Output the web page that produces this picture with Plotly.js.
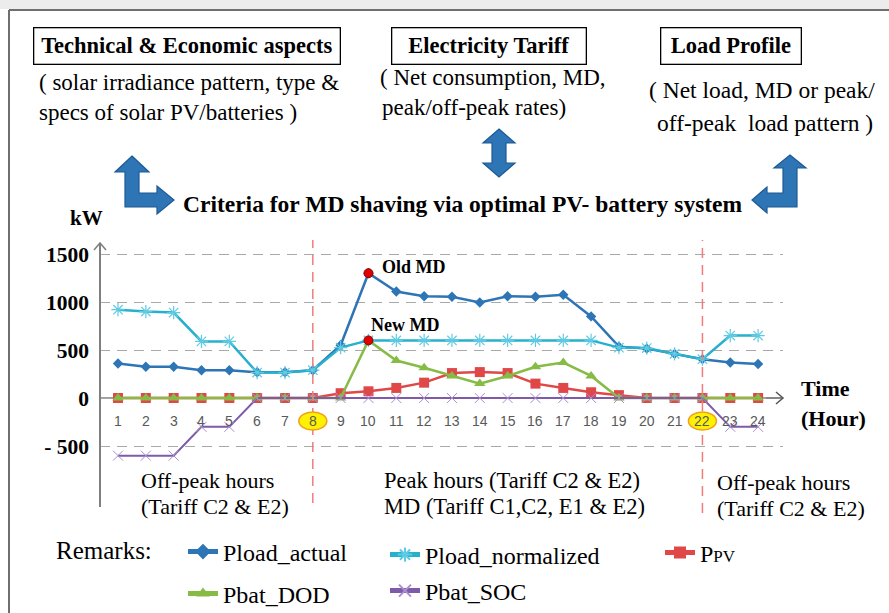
<!DOCTYPE html>
<html>
<head>
<meta charset="utf-8">
<script src="https://cdn.plot.ly/plotly-3.0.1.min.js"></script>
<style>html,body{margin:0;padding:0;background:#fff;}#chart{width:889px;height:613px;}</style>
</head>
<body>
<div id="chart"></div>
<script>
// ---------- data ----------
const hours = [1,2,3,4,5,6,7,8,9,10,11,12,13,14,15,16,17,18,19,20,21,22,23,24];
const hourLabels = ['1','2','3','4','5','6','7','8','9','10','11','12','13','14','15','16','17','18','19','20','21','22','23','24'];
const loadActual = [360,325,325,290,290,268,268,290,550,1300,1110,1060,1055,995,1060,1055,1075,850,535,515,460,405,370,355];
const loadNormalized = [920,900,890,590,590,265,265,290,525,600,600,600,600,600,600,600,600,600,525,520,460,405,650,650];
const pPV = [0,0,0,0,0,0,0,0,50,70,105,160,260,270,260,150,105,60,30,0,0,0,0,0];
const batDOD = [0,0,0,0,0,0,0,0,0,600,390,315,230,150,230,325,370,230,0,0,0,0,0,0];
const batSOC = [-600,-600,-600,-300,-300,0,0,0,0,0,0,0,0,0,0,0,0,0,0,0,0,0,-300,-300];
const mdHour = 10;
const oldMD = 1300;
const newMD = 600;
const boundaryHours = [8, 22];
const yTickVals = [-500, 0, 500, 1000, 1500];
const yTickText = ['- 500', '0', '500', '1000', '1500'];

// ---------- layout helpers (figure pixels -> paper) ----------
const W = 889, H = 613;
const PL = 100, PR = 783, PT = 242, PB = 507;
const X = px => (px - PL) / (PR - PL);
const Y = py => (PB - py) / (PB - PT);
const path = pts => pts.map((p, i) => (i ? 'L' : 'M') + X(p[0]).toFixed(5) + ',' + Y(p[1]).toFixed(5)).join(' ') + ' Z';
const pathOpen = pts => pts.map((p, i) => (i ? 'L' : 'M') + X(p[0]).toFixed(5) + ',' + Y(p[1]).toFixed(5)).join(' ');

const SERIF = 'Liberation Serif';
const SANS = 'Liberation Sans';
const blue = '#2E75B6';

const traces = [
  {x: hours, y: pPV, name: 'P<span style="font-size:17px">PV</span>', mode: 'lines+markers',
   line: {color: '#E04848', width: 2.5}, marker: {symbol: 'square', size: 10, color: '#E04848'}, legend: 'legend3'},
  {x: hours, y: batDOD, name: 'Pbat_DOD', mode: 'lines+markers',
   line: {color: '#86BC45', width: 2.5}, marker: {symbol: 'triangle-up', size: 10, color: '#86BC45'}, legend: 'legend4'},
  {x: hours, y: batSOC, name: 'Pbat_SOC', mode: 'lines+markers',
   line: {color: '#7E5AA8', width: 2}, marker: {symbol: 'x-thin-open', size: 10, color: '#A98FD0', line: {width: 1, color: '#A98FD0'}}, legend: 'legend5'},
  {x: hours, y: loadActual, name: 'Pload_actual', mode: 'lines+markers',
   line: {color: blue, width: 2.5}, marker: {symbol: 'diamond', size: 8, color: blue}, legend: 'legend'},
  {x: hours, y: loadNormalized, name: 'Pload_normalized', mode: 'lines+markers',
   line: {color: '#26B0CE', width: 2.5}, marker: {symbol: 'asterisk-open', size: 11, color: '#5FCBE3', line: {width: 1.2, color: '#5FCBE3'}}, legend: 'legend2'},
  {x: [mdHour, mdHour], y: [oldMD, newMD], mode: 'markers', showlegend: false,
   marker: {symbol: 'circle', size: 9, color: '#E00000', line: {color: '#8B0000', width: 1}}}
];

const shapes = [];
// top band + border
shapes.push({type: 'rect', xref: 'paper', yref: 'paper', x0: X(0), x1: X(W), y0: Y(0), y1: Y(9), fillcolor: '#ececec', line: {width: 0}, layer: 'below'});
shapes.push({type: 'line', xref: 'paper', yref: 'paper', x0: X(9), x1: X(W), y0: Y(10), y1: Y(10), line: {color: '#6f6f6f', width: 2}});
shapes.push({type: 'line', xref: 'paper', yref: 'paper', x0: X(9), x1: X(9), y0: Y(10), y1: Y(H), line: {color: '#6f6f6f', width: 2}});
// block arrows
const arrowStyle = {fillcolor: blue, line: {color: '#1d5a94', width: 1.2}};
shapes.push(Object.assign({type: 'path', xref: 'paper', yref: 'paper', path: path([[132,156],[149,172],[139,172],[139,193],[157,193],[157,186],[174,200],[157,214],[157,207],[125,207],[125,172],[115,172]])}, arrowStyle));
shapes.push(Object.assign({type: 'path', xref: 'paper', yref: 'paper', path: path([[499,129],[515,143],[506,143],[506,163],[515,163],[499,177],[483,163],[492,163],[492,143],[483,143]])}, arrowStyle));
shapes.push(Object.assign({type: 'path', xref: 'paper', yref: 'paper', path: path([[790,155],[806,168],[797,168],[797,207],[767,207],[767,213],[752,200],[767,187],[767,193],[783,193],[783,168],[774,168]])}, arrowStyle));
// y axis with chevron
shapes.push({type: 'line', xref: 'paper', yref: 'paper', x0: X(100), x1: X(100), y0: Y(507), y1: Y(243), line: {color: '#7f7f7f', width: 2}});
shapes.push({type: 'path', xref: 'paper', yref: 'paper', path: pathOpen([[94,250],[100,243],[106,250]]), line: {color: '#7f7f7f', width: 1.5}});
// x axis (zero line) with chevron
shapes.push({type: 'line', xref: 'paper', yref: 'y', x0: X(100), x1: X(783), y0: 0, y1: 0, line: {color: '#7f7f7f', width: 1.5}, layer: 'below'});
shapes.push({type: 'line', xref: 'paper', yref: 'y', x0: X(766), x1: X(783), y0: 0, y1: 0, line: {color: '#7f7f7f', width: 1.5}});
shapes.push({type: 'path', xref: 'paper', yref: 'paper', path: pathOpen([[776,392],[783,398],[776,404]]), line: {color: '#555555', width: 1.5}});
// boundary dashed lines and highlighted labels
boundaryHours.forEach((h, i) => {
  shapes.push({type: 'line', xref: 'x', yref: 'paper', x0: h, x1: h, y0: Y(i === 0 ? 503 : 513), y1: Y(240),
    line: {color: '#F07C7C', width: 1.5, dash: '10px,7px'}});
  shapes.push({type: 'circle', xref: 'x', yref: 'y', xsizemode: 'pixel', ysizemode: 'pixel', xanchor: h, yanchor: 0,
    x0: -14, x1: 14, y0: -32, y1: -14, fillcolor: '#FFF200', line: {color: '#F0A020', width: 1.5}});
});

const ann = [];
const txt = (text, px, py, size, opts) => Object.assign({xref: 'paper', yref: 'paper', x: X(px), y: Y(py), text: text, showarrow: false,
  xanchor: 'left', yanchor: 'middle', font: {family: SERIF, size: size, color: '#000'}}, opts || {});
const bold = size => ({family: SERIF, size: size, color: '#000', weight: 'bold'});
// boxed headings
[['Technical &amp; Economic aspects', 186.5, 303], ['Electricity Tariff', 489, 191], ['Load Profile', 731, 137]].forEach(b => {
  ann.push(txt(b[0], b[1], 46, 22.5, {xanchor: 'center', width: b[2], height: 33, bordercolor: '#000', borderwidth: 1.3, borderpad: 1, bgcolor: '#fff', font: bold(22.5)}));
});
ann.push(txt('( solar irradiance pattern, type &amp;', 37, 83, 23));
ann.push(txt('specs of solar PV/batteries )', 37, 112, 23));
ann.push(txt('( Net consumption, MD,', 378, 78, 23));
ann.push(txt('peak/off-peak rates)', 380, 108, 23));
ann.push(txt('( Net load, MD or peak/', 762, 90, 23.5, {xanchor: 'center'}));
ann.push(txt('off-peak  load pattern )', 765, 123, 23.5, {xanchor: 'center'}));
ann.push(txt('Criteria for MD shaving via optimal PV- battery system', 463, 204, 23.5, {xanchor: 'center', font: bold(23.5)}));
ann.push(txt('kW', 86, 218, 21, {xanchor: 'center', font: bold(21)}));
ann.push(txt('Time', 799, 388, 22, {font: bold(22)}));
ann.push(txt('(Hour)', 799, 418, 22, {font: bold(22)}));
ann.push(txt('Off-peak hours', 139, 480, 22));
ann.push(txt('(Tariff C2 &amp; E2)', 139, 506, 22));
ann.push(txt('Peak hours (Tariff C2 &amp; E2)', 382, 480, 22.5));
ann.push(txt('MD (Tariff C1,C2, E1 &amp; E2)', 382, 506, 22.5));
ann.push(txt('Off-peak hours', 715, 482, 22));
ann.push(txt('(Tariff C2 &amp; E2)', 715, 508, 22));
ann.push(txt('Remarks:', 54, 550, 25));
// MD labels
ann.push({xref: 'x', yref: 'y', x: mdHour, y: oldMD, text: 'Old MD', showarrow: false, xanchor: 'left', yanchor: 'middle', xshift: 12, yshift: 6, font: bold(18)});
ann.push({xref: 'x', yref: 'y', x: mdHour, y: newMD, text: 'New MD', showarrow: false, xanchor: 'left', yanchor: 'middle', xshift: 1, yshift: 15, font: bold(18)});
// hour tick labels
hours.forEach((h, i) => {
  ann.push({xref: 'x', yref: 'y', x: h, y: 0, text: hourLabels[i], showarrow: false, xanchor: 'center', yanchor: 'middle', yshift: -23,
    font: {family: SANS, size: 14, color: '#595959'}});
});

const legendBase = {xanchor: 'left', yanchor: 'middle', bgcolor: 'rgba(0,0,0,0)', itemsizing: 'constant', itemwidth: 30,
  font: {family: SERIF, size: 24, color: '#000'}};
const layout = {
  width: W, height: H,
  font: {family: SERIF},
  margin: {l: PL, r: W - PR, t: PT, b: H - PB, pad: 0, autoexpand: false},
  paper_bgcolor: '#fff', plot_bgcolor: 'rgba(0,0,0,0)',
  showlegend: true,
  xaxis: {range: [1 - 18 / 27.83, 1 - 18 / 27.83 + 683 / 27.83], showgrid: false, zeroline: false, showline: false, showticklabels: false, ticks: ''},
  yaxis: {range: [-1135, 1625], tickvals: yTickVals, ticktext: yTickText, showgrid: true, gridcolor: '#a9a9a9', gridwidth: 1, griddash: '10px,7px',
    zeroline: false, showline: false, ticks: '', ticklabelstandoff: 10,
    tickfont: bold(21.5)},
  legend: Object.assign({x: X(183), y: Y(552)}, legendBase),
  legend2: Object.assign({x: X(385), y: Y(555)}, legendBase),
  legend3: Object.assign({x: X(660), y: Y(553)}, legendBase),
  legend4: Object.assign({x: X(183), y: Y(594)}, legendBase),
  legend5: Object.assign({x: X(385), y: Y(591)}, legendBase),
  shapes: shapes,
  annotations: ann
};
Plotly.newPlot('chart', traces, layout, {displayModeBar: false, staticPlot: true});
</script>
</body>
</html>
